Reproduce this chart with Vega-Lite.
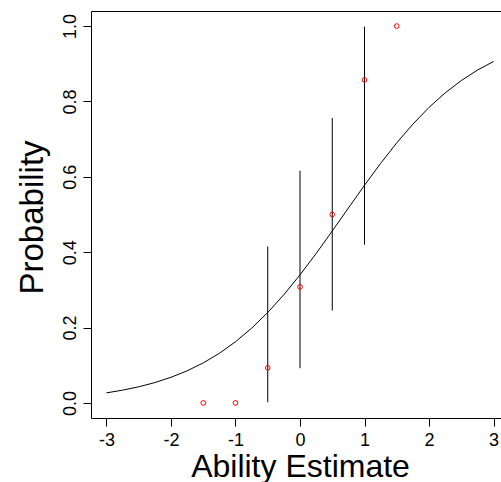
{
  "$schema": "https://vega.github.io/schema/vega-lite/v6.json",
  "autosize": {"type": "none"},
  "padding": {"left": 91, "top": 11, "right": 0, "bottom": 64},
  "width": 418,
  "height": 407,
  "background": "white",
  "config": {
    "view": {"stroke": "black", "strokeWidth": 1},
    "font": "Liberation Sans",
    "axis": {"grid": false, "domain": false, "tickColor": "black", "tickSize": 8, "labelColor": "black", "labelFont": "Liberation Sans", "labelFontSize": 18, "titleFont": "Liberation Sans", "titleFontWeight": "normal", "titleColor": "black"}
  },
  "datasets": {
    "curve": [
      {"theta": -3.0, "p": 0.0267}, {"theta": -2.75, "p": 0.0339}, {"theta": -2.5, "p": 0.0428},
      {"theta": -2.25, "p": 0.054}, {"theta": -2.0, "p": 0.068}, {"theta": -1.75, "p": 0.0852},
      {"theta": -1.5, "p": 0.1062}, {"theta": -1.25, "p": 0.1317}, {"theta": -1.0, "p": 0.1623},
      {"theta": -0.75, "p": 0.1983}, {"theta": -0.5, "p": 0.2399}, {"theta": -0.25, "p": 0.2872},
      {"theta": 0.0, "p": 0.3398}, {"theta": 0.25, "p": 0.3965}, {"theta": 0.5, "p": 0.4562},
      {"theta": 0.75, "p": 0.5171}, {"theta": 1.0, "p": 0.5776}, {"theta": 1.25, "p": 0.6357},
      {"theta": 1.5, "p": 0.6901}, {"theta": 1.75, "p": 0.7397}, {"theta": 2.0, "p": 0.7842},
      {"theta": 2.25, "p": 0.8226}, {"theta": 2.5, "p": 0.8554}, {"theta": 2.75, "p": 0.8831},
      {"theta": 3.0, "p": 0.906}
    ],
    "obs": [
      {"theta": -1.5, "p": 0.0}, {"theta": -1.0, "p": 0.0}, {"theta": -0.5, "p": 0.093},
      {"theta": 0.0, "p": 0.308}, {"theta": 0.5, "p": 0.5}, {"theta": 1.0, "p": 0.857},
      {"theta": 1.5, "p": 1.0}
    ],
    "bars": [
      {"theta": -0.5, "lo": 0.002, "hi": 0.415},
      {"theta": 0.0, "lo": 0.092, "hi": 0.616},
      {"theta": 0.5, "lo": 0.245, "hi": 0.756},
      {"theta": 1.0, "lo": 0.42, "hi": 0.998}
    ]
  },
  "layer": [
    {
      "data": {"name": "curve"},
      "mark": {"type": "line", "color": "black", "strokeWidth": 1},
      "encoding": {
        "x": {"field": "theta", "type": "quantitative",
              "scale": {"domain": [-3.24, 3.24], "nice": false, "zero": false},
              "axis": {"values": [-3, -2, -1, 0, 1, 2, 3], "labelExpr": "toString(datum.value)", "title": "Ability Estimate",
                       "titleFontSize": 32, "labelBaseline": "alphabetic", "labelPadding": 19,
                       "titleBaseline": "alphabetic", "titleY": 58, "labelFlush": false}},
        "y": {"field": "p", "type": "quantitative",
              "scale": {"domain": [-0.04, 1.04], "nice": false, "zero": false},
              "axis": {"values": [0, 0.2, 0.4, 0.6, 0.8, 1.0], "format": ".1f", "title": "Probability",
                       "titleFontSize": 33, "labelAngle": -90, "labelAlign": "center",
                       "labelBaseline": "alphabetic", "labelPadding": 8, "labelFlush": false,
                       "titleAngle": -90, "titleAlign": "center", "titleBaseline": "alphabetic",
                       "titleX": -49, "titleY": 206}}
      }
    },
    {
      "data": {"name": "bars"},
      "mark": {"type": "rule", "color": "black", "strokeWidth": 1},
      "encoding": {
        "x": {"field": "theta", "type": "quantitative"},
        "y": {"field": "lo", "type": "quantitative"},
        "y2": {"field": "hi"}
      }
    },
    {
      "data": {"name": "obs"},
      "mark": {"type": "point", "shape": "circle", "filled": false, "color": "red", "size": 22, "strokeWidth": 1, "opacity": 1},
      "encoding": {
        "x": {"field": "theta", "type": "quantitative"},
        "y": {"field": "p", "type": "quantitative"}
      }
    }
  ]
}
